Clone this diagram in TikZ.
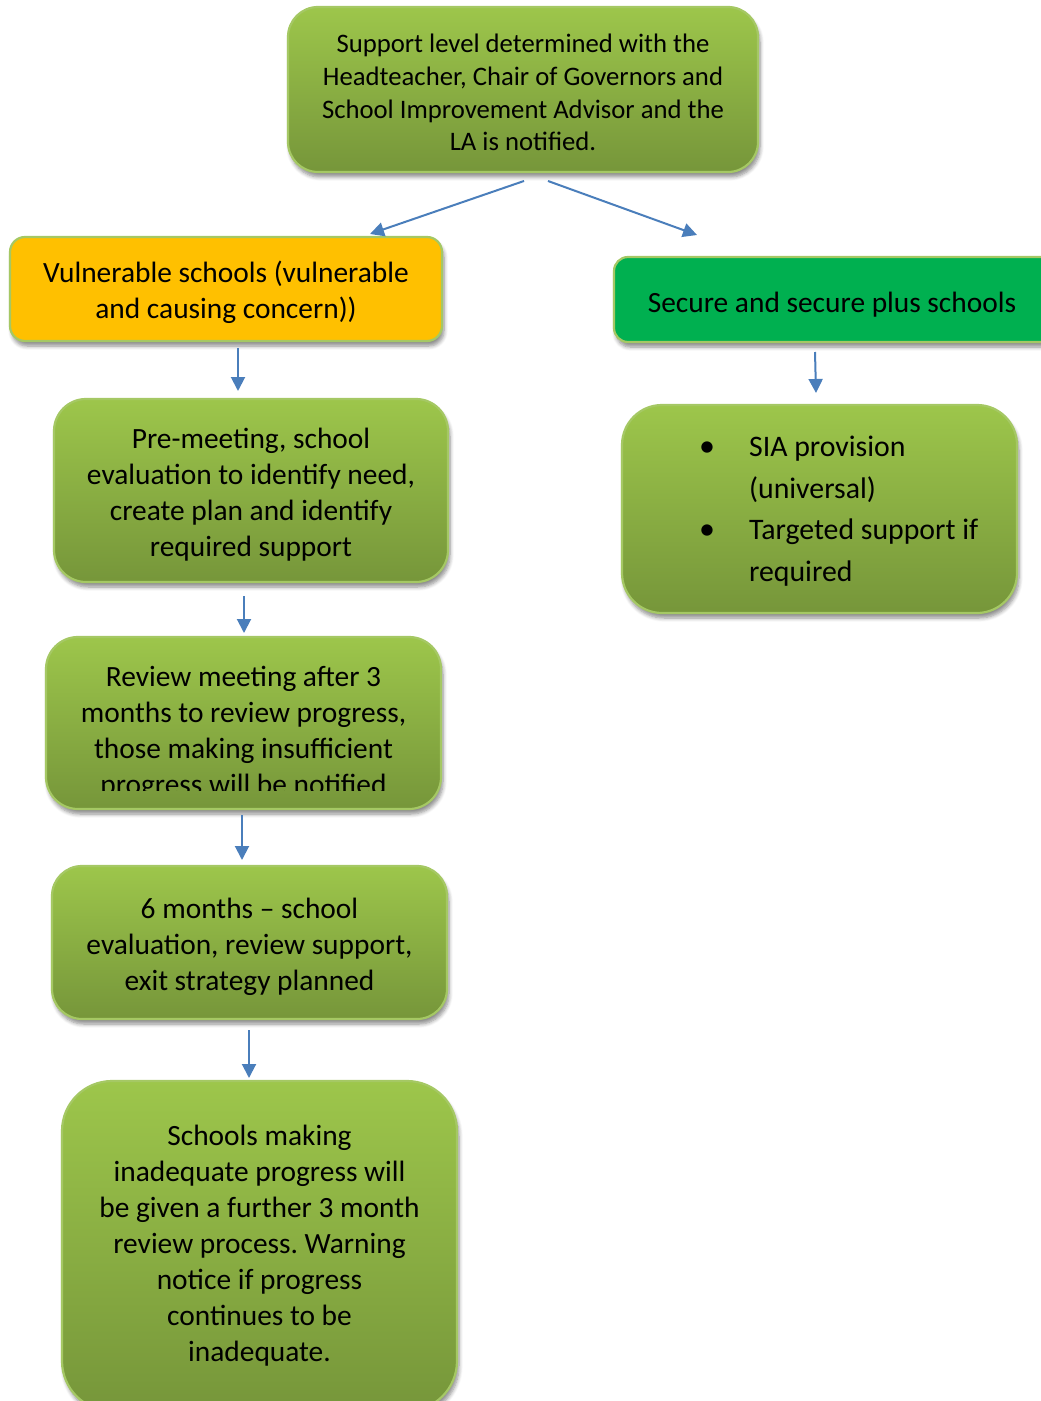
\documentclass[tikz,border=0pt]{standalone}
\usepackage{fontspec}
\setmainfont{Carlito}
\usetikzlibrary{calc,arrows.meta,shadows.blur}
\frenchspacing

\definecolor{leafTop}{HTML}{9DC64B}
\definecolor{leafBot}{HTML}{76963A}
\definecolor{leafEdge}{HTML}{A5C864}
\definecolor{amber}{HTML}{FFC000}
\definecolor{emerald}{HTML}{00B050}
\definecolor{flowblue}{HTML}{4A7EBB}

\tikzset{
  stage/.style={draw=leafEdge, line width=1.1pt, top color=leafTop, bottom color=leafBot,
    inner sep=0pt, outer sep=0pt,
    blur shadow={shadow xshift=1pt, shadow yshift=-2.5pt, shadow blur steps=6, shadow opacity=45}},
  flatbox/.style={draw=leafEdge, line width=1.1pt, inner sep=0pt, outer sep=0pt,
    blur shadow={shadow xshift=1pt, shadow yshift=-2.5pt, shadow blur steps=6, shadow opacity=45}},
  flow/.style={draw=flowblue, line width=1pt, -{Triangle[length=7pt,width=7pt]}},
  bodytext/.style={font=\fontsize{14.7}{18}\selectfont, align=center, text=black},
}

\begin{document}
\begin{tikzpicture}[x=0.5pt,y=-0.5pt]
\useasboundingbox (0,0) rectangle (1040,1401);

% top decision box
\node[stage, rounded corners=15pt, minimum width=235pt, minimum height=82.5pt] (top) at (523,89.5) {};
\node[font=\fontsize{13.35}{16.4}\selectfont, align=center] (toptext) at (523,92.5)
  {Support level determined with the\\Headteacher, Chair of Governors and\\School Improvement Advisor and the\\LA is notified.};

% the two branches
\node[flatbox, fill=amber, rounded corners=7.5pt, minimum width=216pt, minimum height=52pt] (vul) at (226,289) {};
\node[bodytext] (vultext) at (226,292) {Vulnerable schools (vulnerable\\and causing concern))};

\node[flatbox, fill=emerald, rounded corners=7pt, minimum width=228pt, minimum height=42.5pt] (sec) at (842,299.5) {};
\node[bodytext] (sectext) at (832,304.5) {Secure and secure plus schools};

% left-hand sequence
\node[stage, rounded corners=16pt, minimum width=197pt, minimum height=91.5pt] (pre) at (251,490.5) {};
\node[bodytext] (pretext) at (251,494.5)
  {Pre-meeting, school\\evaluation to identify need,\\create plan and identify\\required support};

\node[stage, rounded corners=16pt, minimum width=197.5pt, minimum height=86pt] (rev) at (243.5,723) {};
\begin{scope}
  \clip (46,637) rectangle (441,790);
  \node[bodytext] (revtext) at (243.5,733)
    {Review meeting after 3\\months to review progress,\\those making insufficient\\progress will be notified};
\end{scope}

\node[stage, rounded corners=15pt, minimum width=197.5pt, minimum height=76.5pt] (six) at (249.5,942.5) {};
\node[bodytext] (sixtext) at (249.5,946.5)
  {6 months -- school\\evaluation, review support,\\exit strategy planned};

\node[stage, rounded corners=25pt, minimum width=197.5pt, minimum height=165pt] (sch) at (259.5,1246) {};
\node[bodytext] (schtext) at (259.5,1246)
  {Schools making\\inadequate progress will\\be given a further 3 month\\review process. Warning\\notice if progress\\continues to be\\inadequate.};

% right-hand provision box
\node[stage, rounded corners=20pt, minimum width=197.5pt, minimum height=104pt] (sia) at (819.5,509) {};
\node[font=\fontsize{14.9}{20.8}\selectfont, align=left, anchor=west] (siatext) at (692,511)
  {\makebox[25pt][l]{\fontsize{16}{16}\selectfont•}SIA provision\\
   \hspace*{25pt}(universal)\\
   \makebox[25pt][l]{\fontsize{16}{16}\selectfont•}Targeted support if\\
   \hspace*{25pt}required};

% connectors
\draw[flow] ($(top.south)+(1,9)$) -- ($(vul.north)+(144,-3)$);
\draw[flow] ($(top.south)+(25,9)$) -- ($(sec.north)+(-145,-22)$);
\draw[flow] ($(vul.south)+(12,7)$) -- ($(pre.north)+(-13,-8)$);
\draw[flow] ($(pre.south)+(-7,14)$) -- ($(rev.north)+(0.5,-4)$);
\draw[flow] ($(rev.south)+(-1.5,6)$) -- ($(six.north)+(-7.5,-6)$);
\draw[flow] ($(six.south)+(-0.5,11)$) -- ($(sch.north)+(-10.5,-3)$);
\draw[flow] ($(sec.south)+(-27,10)$) -- ($(sia.north)+(-3.5,-12)$);
\end{tikzpicture}
\end{document}
